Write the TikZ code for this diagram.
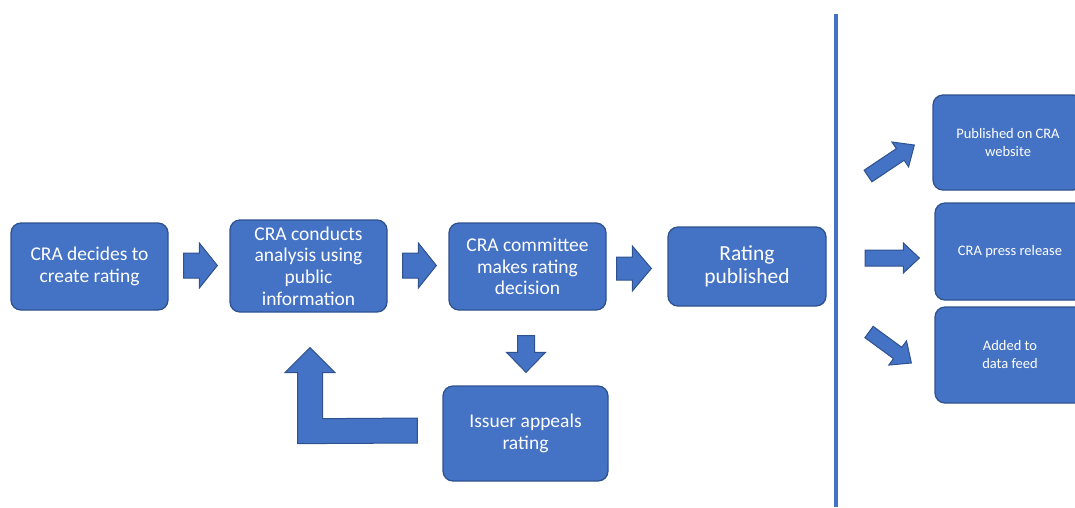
\documentclass[tikz,border=0pt]{standalone}
\usepackage{fontspec}
\setmainfont{Carlito}
\usetikzlibrary{calc}
\definecolor{boxblue}{HTML}{4472C4}
\definecolor{edgeblue}{HTML}{2F528F}
\tikzset{
  box/.style={draw=edgeblue, line width=1.3pt, fill=boxblue, rounded corners=10pt,
    text=white, align=center, inner sep=0pt},
  bigtext/.style={font=\fontsize{19.5}{21.8}\selectfont},
  hugetext/.style={font=\fontsize{21.5}{23.5}\selectfont},
  smalltext/.style={font=\fontsize{14.5}{18}\selectfont},
  blockarr/.style={draw=edgeblue, line width=1pt, fill=boxblue, line join=miter},
  divider/.style={draw=boxblue, line width=4pt}
}
% #1 start, #2 end, #3 half shaft, #4 half head, #5 head length
\newcommand\barrow[5]{%
  \coordinate (ba-s) at (#1);
  \coordinate (ba-e) at (#2);
  \coordinate (ba-h) at ($(ba-e)!#5!(ba-s)$);
  \path[blockarr] ($(ba-s)!#3!90:(ba-e)$) -- ($(ba-h)!#3!90:(ba-e)$)
    -- ($(ba-h)!#4!90:(ba-e)$) -- (ba-e) -- ($(ba-h)!#4!-90:(ba-e)$)
    -- ($(ba-h)!#3!-90:(ba-e)$) -- ($(ba-s)!#3!-90:(ba-e)$) -- cycle;
}
\begin{document}
\begin{tikzpicture}[x=1pt,y=-1pt]
\useasboundingbox (0,0) rectangle (1075,507);
\clip (0,0) rectangle (1075,507);

% main flow boxes
\node[box,bigtext,minimum width=157pt,minimum height=87pt] (b1) at (89.5,266.5) {CRA decides to\\create rating};
\node[box,bigtext,minimum width=157pt,minimum height=92pt] (b2) at (308.5,266) {CRA conducts\\analysis using\\public\\information};
\node[box,bigtext,minimum width=157pt,minimum height=87pt] (b3) at (527.5,266.5) {CRA committee\\makes rating\\decision};
\node[box,hugetext,minimum width=158pt,minimum height=79pt] (b4) at (747,266.5) {Rating\\published};
\node[box,bigtext,minimum width=165pt,minimum height=95pt] (b5) at (525.5,433.5) {Issuer appeals\\rating};

% right boxes
\node[box,smalltext,minimum width=150pt,minimum height=95pt] (r1) at (1008,142.5) {Published on CRA\\website};
\node[box,smalltext,minimum width=150pt,minimum height=97pt] (r2) at (1010,251.5) {CRA press release};
\node[box,smalltext,minimum width=150pt,minimum height=96pt] (r3) at (1010,355) {Added to\\data feed};

% divider
\coordinate (dtop) at (836,14);
\coordinate (dbot) at (836,507);
\draw[divider] (dtop) -- (dbot);

% block arrows between boxes
\coordinate (a1s) at ($(b1.east)+(15,-1)$);
\coordinate (a1e) at ($(b2.west)+(-12,-0.5)$);
\barrow{a1s}{a1e}{12.5pt}{22.5pt}{18pt}
\coordinate (a2s) at ($(b2.east)+(15,-0.5)$);
\coordinate (a2e) at ($(b3.west)+(-12,-1)$);
\barrow{a2s}{a2e}{12.5pt}{22.5pt}{18pt}
\coordinate (a3s) at ($(b3.east)+(10,2)$);
\coordinate (a3e) at ($(b4.west)+(-16,2)$);
\barrow{a3s}{a3e}{11.5pt}{22.5pt}{19pt}
\coordinate (a4s) at ($(b3.south)+(-1.5,25)$);
\coordinate (a4e) at ($(b5.north)+(0.5,-13)$);
\barrow{a4s}{a4e}{8.5pt}{19.5pt}{20pt}

% return (bent) arrow from issuer box to analysis box
\coordinate (la) at ($(b5.west)+(-25,-3)$);
\coordinate (lt) at ($(b2.south)+(1.5,35)$);
\path[blockarr] ($(la)+(0,-12.5)$) -- ($(la)+(0,12.5)$) -- ($(lt)+(-12.5,96)$)
  -- ($(lt)+(-12.5,25)$) -- ($(lt)+(-25,25)$) -- (lt) -- ($(lt)+(25,25)$)
  -- ($(lt)+(12.5,25)$) -- ($(lt)+(12.5,71)$) -- cycle;

% publication arrows
\coordinate (p1s) at (868,176);
\coordinate (p1e) at ($(r1.west)+(-18,2.5)$);
\barrow{p1s}{p1e}{7pt}{15pt}{17pt}
\coordinate (p2s) at (865,258);
\coordinate (p2e) at ($(r2.west)+(-15,6.5)$);
\barrow{p2s}{p2e}{8pt}{15pt}{16pt}
\coordinate (p3s) at (869,332);
\coordinate (p3e) at ($(r3.west)+(-23,8)$);
\barrow{p3s}{p3e}{7pt}{15pt}{17pt}
\end{tikzpicture}
\end{document}
